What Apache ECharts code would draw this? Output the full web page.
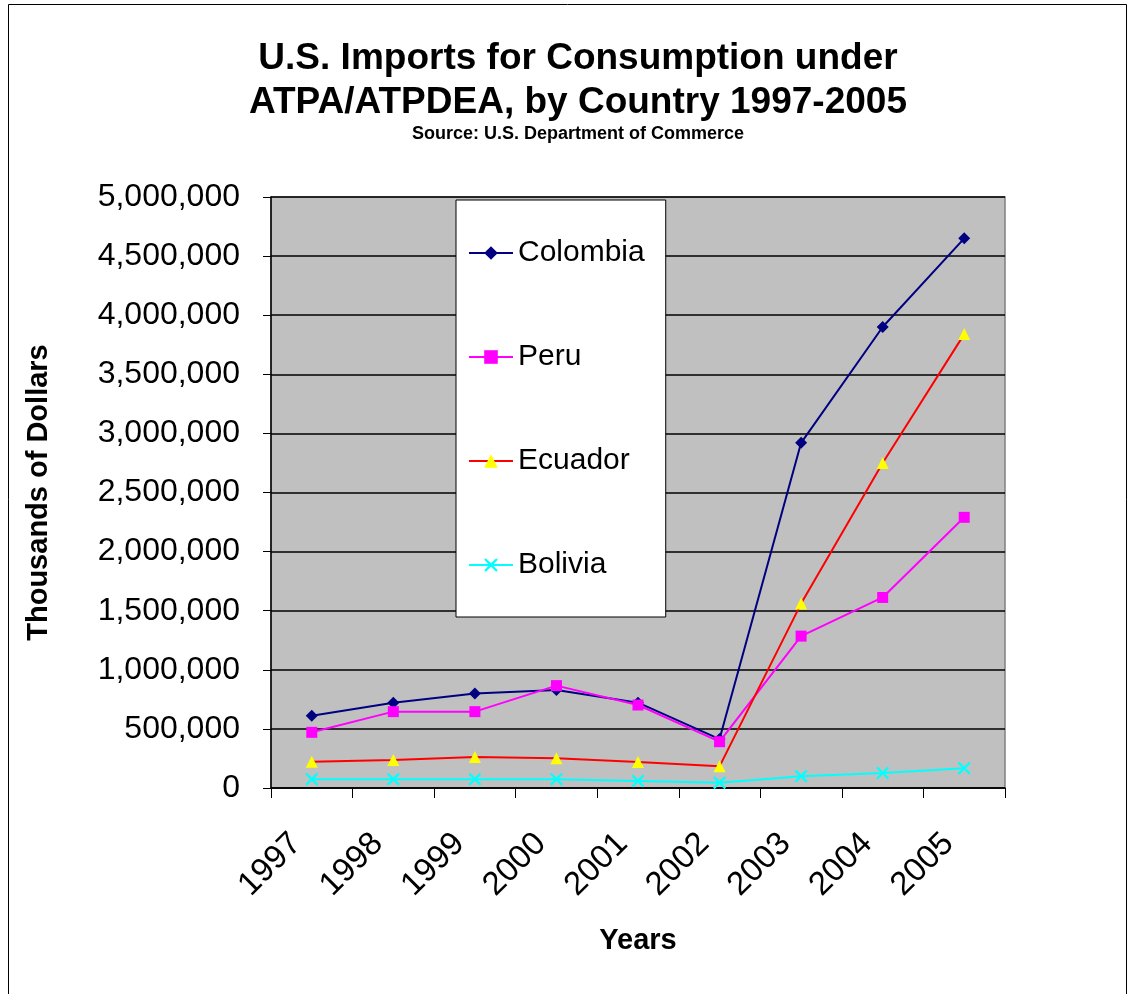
<!DOCTYPE html>
<html>
<head>
<meta charset="utf-8">
<script src="https://cdn.jsdelivr.net/npm/echarts@6/dist/echarts.min.js"></script>
<style>
  html, body { margin: 0; padding: 0; background: #fff; }
  #main { width: 1133px; height: 994px; }
</style>
</head>
<body>
<div id="main"></div>
<script>
// values, thousands of dollars
var years = ['1997', '1998', '1999', '2000', '2001', '2002', '2003', '2004', '2005'];
var colombia = [612000, 722000, 800000, 829000, 722000, 414000, 2920000, 3900000, 4650000];
var peru = [471000, 646000, 646000, 866000, 702000, 392000, 1285000, 1612000, 2290000];
var ecuador = [223000, 237000, 262000, 252000, 221000, 183000, 1560000, 2750000, 3840000];
var bolivia = [75000, 75000, 75000, 75000, 60000, 45000, 100000, 127000, 168000];

var FONT = "'Liberation Sans', Arial, sans-serif";
var crossPath = 'path://M0,1.2 L1.2,0 L5,3.8 L8.8,0 L10,1.2 L6.2,5 L10,8.8 L8.8,10 L5,6.2 L1.2,10 L0,8.8 L3.8,5 Z';

var myChart = echarts.init(document.getElementById('main'));

var option = {
  backgroundColor: '#fff',
  animation: false,
  title: {
    text: 'U.S. Imports for Consumption under\nATPA/ATPDEA, by Country 1997-2005',
    subtext: 'Source: U.S. Department of Commerce',
    left: 573,
    top: 32,
    itemGap: 0,
    textAlign: 'center',
    textStyle: { fontFamily: FONT, fontWeight: 'bold', fontSize: 37, lineHeight: 44, color: '#000' },
    subtextStyle: { fontFamily: FONT, fontWeight: 'bold', fontSize: 18, lineHeight: 18, color: '#000' }
  },
  graphic: [{
    type: 'rect',
    shape: { x: 8.5, y: 4.5, width: 1118, height: 1010 },
    style: { fill: 'none', stroke: '#000', lineWidth: 1 },
    silent: true
  }],
  legend: {
    orient: 'vertical',
    left: 456,
    top: 200,
    backgroundColor: '#fff',
    borderColor: '#000',
    borderWidth: 1,
    padding: [38, 21, 37, 12],
    itemWidth: 44,
    itemHeight: 17,
    itemGap: 74,
    itemTextGap: 8,
    textStyle: { fontFamily: FONT, fontSize: 30, lineHeight: 30, color: '#000' },
    data: ['Colombia', 'Peru', 'Ecuador', 'Bolivia']
  },
  grid: {
    left: 271,
    top: 197,
    width: 734,
    height: 591,
    show: true,
    backgroundColor: '#C0C0C0',
    borderColor: '#808080',
    borderWidth: 1.5
  },
  xAxis: {
    type: 'category',
    data: years,
    boundaryGap: true,
    name: 'Years',
    nameLocation: 'middle',
    nameGap: 138,
    nameTextStyle: { fontFamily: FONT, fontWeight: 'bold', fontSize: 29, color: '#000' },
    axisLine: { lineStyle: { color: '#000', width: 1.5 } },
    axisTick: { show: true, length: 10, lineStyle: { color: '#000' } },
    axisLabel: {
      interval: 0,
      rotate: 45,
      margin: 35,
      padding: [0, 22, 0, 0],
      fontFamily: FONT,
      fontSize: 33,
      color: '#000'
    },
    splitLine: { show: false }
  },
  yAxis: {
    type: 'value',
    min: 0,
    max: 5000000,
    interval: 500000,
    name: 'Thousands of Dollars',
    nameLocation: 'middle',
    nameGap: 218,
    nameTextStyle: { fontFamily: FONT, fontWeight: 'bold', fontSize: 29, color: '#000' },
    axisLine: { show: true, lineStyle: { color: '#000', width: 1.5 } },
    axisTick: { show: true, length: 8, lineStyle: { color: '#000' } },
    axisLabel: {
      margin: 31,
      fontFamily: FONT,
      fontSize: 32,
      color: '#000',
      formatter: function (v) { return v.toLocaleString('en-US'); }
    },
    splitLine: { show: true, lineStyle: { color: '#000', width: 1.5 } }
  },
  series: [
    {
      name: 'Colombia',
      type: 'line',
      data: colombia,
      symbol: 'diamond',
      symbolSize: 12,
      lineStyle: { color: '#000080', width: 2 },
      itemStyle: { color: '#000080', borderWidth: 0 }
    },
    {
      name: 'Peru',
      type: 'line',
      data: peru,
      symbol: 'rect',
      symbolSize: 11,
      lineStyle: { color: '#FF00FF', width: 2 },
      itemStyle: { color: '#FF00FF', borderWidth: 0 }
    },
    {
      name: 'Ecuador',
      type: 'line',
      data: ecuador,
      symbol: 'triangle',
      symbolSize: 12,
      lineStyle: { color: '#FF0000', width: 2 },
      itemStyle: { color: '#FFFF00', borderWidth: 0 }
    },
    {
      name: 'Bolivia',
      type: 'line',
      data: bolivia,
      symbol: crossPath,
      symbolSize: 13,
      lineStyle: { color: '#00FFFF', width: 2 },
      itemStyle: { color: '#00FFFF', borderWidth: 0 }
    }
  ]
};

myChart.setOption(option);
window.addEventListener('resize', function () {
  myChart.resize();
});
</script>
</body>
</html>
